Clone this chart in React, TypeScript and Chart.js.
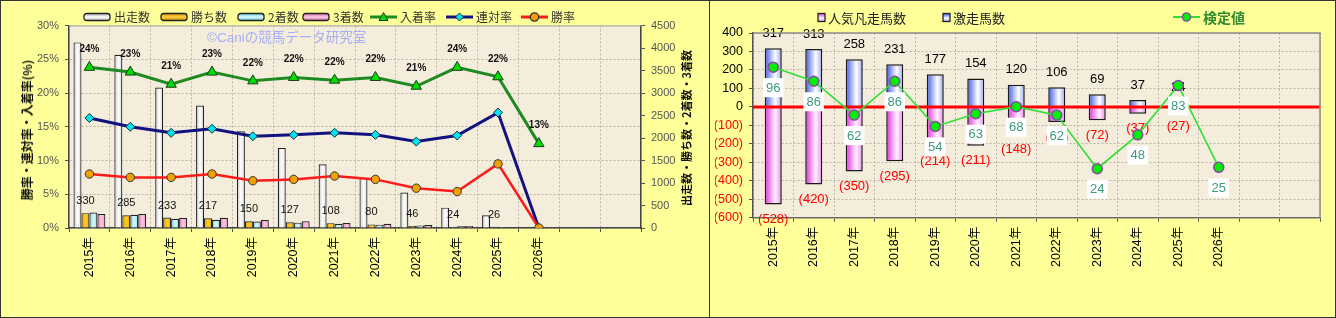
import React, { useEffect, useRef } from 'react';
import { Chart, registerables } from 'chart.js';

Chart.register(...registerables);

// ---------------- data ----------------
const categories = ['2015年', '2016年', '2017年', '2018年', '2019年', '2020年', '2021年', '2022年', '2023年', '2024年', '2025年', '2026年', '', ''];

// left chart
const runs = [4125, 3850, 3120, 2720, 2150, 1780, 1415, 1115, 790, 452, 282, 8];
const wins = [330, 285, 233, 217, 150, 127, 108, 80, 46, 24, 26, 0];
const seconds = [342, 293, 207, 183, 142, 119, 92, 74, 55, 38, 22, 0];
const thirds = [310, 311, 225, 228, 177, 151, 110, 95, 65, 46, 15, 1];
const showRate = [23.8, 23.1, 21.3, 23.1, 21.8, 22.3, 21.9, 22.3, 21.0, 23.8, 22.4, 12.5];
const quinellaRate = [16.3, 15.0, 14.1, 14.7, 13.6, 13.8, 14.1, 13.8, 12.8, 13.7, 17.1, 0];
const winRate = [8.0, 7.5, 7.5, 8.0, 7.0, 7.2, 7.7, 7.2, 5.9, 5.4, 9.5, 0];
const leftNames = ['出走数', '勝ち数', '2着数', '3着数', '入着率', '連対率', '勝率'];

// right chart
const surgeCount = [317, 313, 258, 231, 177, 154, 120, 106, 69, 37, 24, null];
const flopCount = [-528, -420, -350, -295, -214, -211, -148, -82, -72, -37, -27, null];
const testValue = [96, 86, 62, 86, 54, 63, 68, 62, 24, 48, 83, 25];
const rightNames = ['人気凡走馬数', '激走馬数', '検定値'];

// ---------------- styles ----------------
const FONT = "'Liberation Sans', 'Noto Sans CJK JP', sans-serif";
const JFONT = "'Noto Sans CJK JP', 'Liberation Sans', sans-serif";
const GRID = '#BDB5A8';
const PLOT_BG = '#F4EDDC';

type Stops = [number, string][];
const runStops: Stops = [[0, '#c4c4c4'], [0.5, '#ffffff'], [1, '#d6d6d6']];
const winStops: Stops = [[0, '#E0A200'], [0.5, '#FFCC22'], [1, '#E8B000']];
const secStops: Stops = [[0, '#8ED6E4'], [0.5, '#D0F6FA'], [1, '#A2E2EE']];
const thirdStops: Stops = [[0, '#E080BC'], [0.5, '#FFC4E2'], [1, '#F09ACC']];
const blueStops: Stops = [[0, '#3D58E6'], [0.62, '#FFFFFF'], [1, '#98A8F6']];
const pinkStops: Stops = [[0, '#DD2EDD'], [0.62, '#FFF0FF'], [1, '#EE88EE']];

function barGrad(c: any, stops: Stops, solid: string, k: number, nBars: number, catPct: number) {
  const ch = c.chart;
  const xs = ch && ch.scales && ch.scales.x;
  if (!ch || !ch.chartArea || !xs || c.dataIndex == null) return solid;
  const catW = xs.width / categories.length;
  const cx = xs.getPixelForValue(c.dataIndex);
  if (!isFinite(cx) || !isFinite(catW)) return solid;
  const groupW = catW * catPct;
  const bw = groupW / nBars;
  const left = cx - groupW / 2 + k * bw;
  const g = ch.ctx.createLinearGradient(left, 0, left + bw, 0);
  stops.forEach(([o, col]) => g.addColorStop(o, col));
  return g;
}

const LEFT_CAT = 0.78;
const RIGHT_BAR = 0.42;

function leftConfig(): any {
  const barDs = (label: string, data: number[], stops: Stops, k: number) => ({
    type: 'bar',
    label,
    data,
    yAxisID: 'y1',
    backgroundColor: (c: any) => barGrad(c, stops, stops[1][1], k, 4, LEFT_CAT),
    borderColor: '#222',
    borderWidth: 1.2,
    categoryPercentage: LEFT_CAT,
    barPercentage: 1,
    order: 5,
  });
  const plugin = {
    id: 'leftDeco',
    beforeDraw(ch: any) {
      const { ctx, chartArea: a } = ch;
      ctx.save();
      ctx.fillStyle = PLOT_BG;
      ctx.fillRect(a.left, a.top, a.right - a.left, a.bottom - a.top);
      ctx.restore();
    },
    beforeDatasetsDraw(ch: any) {
      const { ctx, chartArea: a } = ch;
      ctx.save();
      ctx.strokeStyle = '#A8A8A8';
      ctx.lineWidth = 1;
      ctx.beginPath();
      ctx.moveTo(a.left, a.top + 0.5);
      ctx.lineTo(a.right, a.top + 0.5);
      ctx.stroke();
      ctx.font = `13.5px ${FONT}`;
      ctx.fillStyle = '#A6AEF4';
      ctx.textAlign = 'left';
      ctx.textBaseline = 'middle';
      ctx.fillText('©Caniの競馬データ研究室', 207, 38);
      ctx.restore();
    },
    afterDatasetsDraw(ch: any) {
      const ctx = ch.ctx;
      ctx.save();
      ctx.textAlign = 'center';
      ctx.textBaseline = 'middle';
      const mw = ch.getDatasetMeta(1);
      ctx.font = `11px ${FONT}`;
      ctx.fillStyle = '#111';
      wins.forEach((v, i) => {
        if (!v) return;
        const el = mw.data[i];
        ctx.fillText(String(v), el.x, el.y - 12);
      });
      const ms = ch.getDatasetMeta(4);
      ctx.font = `bold 10px ${FONT}`;
      showRate.forEach((v, i) => {
        const el = ms.data[i];
        ctx.fillText(Math.round(v) + '%', el.x, el.y - 18);
      });
      ctx.restore();
    },
  };
  return {
    type: 'bar',
    data: {
      labels: categories,
      datasets: [
        barDs(leftNames[0], runs, runStops, 0),
        barDs(leftNames[1], wins, winStops, 1),
        barDs(leftNames[2], seconds, secStops, 2),
        barDs(leftNames[3], thirds, thirdStops, 3),
        {
          type: 'line', label: leftNames[4], data: showRate, yAxisID: 'y',
          borderColor: '#1F8A1F', borderWidth: 3, tension: 0,
          pointStyle: 'triangle', pointRadius: 6, pointBackgroundColor: '#00DD00',
          pointBorderColor: '#1A3A1A', pointBorderWidth: 1, order: 3,
        },
        {
          type: 'line', label: leftNames[5], data: quinellaRate, yAxisID: 'y',
          borderColor: '#12127E', borderWidth: 3, tension: 0,
          pointStyle: 'rectRot', pointRadius: 4.5, pointBackgroundColor: '#00E4F0',
          pointBorderColor: '#1A2A3A', pointBorderWidth: 1, order: 2,
        },
        {
          type: 'line', label: leftNames[6], data: winRate, yAxisID: 'y',
          borderColor: '#FF1A1A', borderWidth: 2.5, tension: 0,
          pointStyle: 'circle', pointRadius: 4.2, pointBackgroundColor: '#F2A000',
          pointBorderColor: '#333', pointBorderWidth: 1, order: 1,
        },
      ],
    },
    options: {
      responsive: false,
      animation: false,
      devicePixelRatio: 1,
      layout: { padding: { left: 9, right: 8, top: 25.5, bottom: 30 } },
      plugins: { legend: { display: false }, tooltip: { enabled: false } },
      scales: {
        x: {
          grid: { color: GRID, offset: true, tickLength: 4, tickColor: '#555' },
          border: { color: '#444', width: 1.5, dash: [2, 2] },
          ticks: { autoSkip: false, maxRotation: 90, minRotation: 90, padding: 5, color: '#000', font: { family: FONT, size: 12.5 } },
          afterFit: (s: any) => { s.height = 60; },
        },
        y: {
          position: 'left', min: 0, max: 30,
          grid: { color: GRID, tickLength: 4, tickColor: '#555' },
          border: { color: '#444', width: 1.5, dash: [2, 2] },
          ticks: { stepSize: 5, autoSkip: false, padding: 6, color: '#555', font: { family: FONT, size: 11 }, callback: (v: any) => v + '%' },
          afterFit: (s: any) => { s.width = 60; },
        },
        y1: {
          position: 'right', min: 0, max: 4500,
          grid: { drawOnChartArea: false, tickLength: 4, tickColor: '#555' },
          border: { color: '#444', width: 1.5 },
          ticks: { stepSize: 500, autoSkip: false, padding: 6, color: '#555', font: { family: FONT, size: 11 }, callback: (v: any) => String(v) },
          afterFit: (s: any) => { s.width = 60; },
        },
      },
    },
    plugins: [plugin],
  };
}

function rightConfig(): any {
  const plugin = {
    id: 'rightDeco',
    beforeDraw(ch: any) {
      const { ctx, chartArea: a } = ch;
      ctx.save();
      ctx.fillStyle = PLOT_BG;
      ctx.fillRect(a.left, a.top, a.right - a.left, a.bottom - a.top);
      ctx.restore();
    },
    afterDatasetDraw(ch: any, args: any) {
      if (args.index !== 0) return;
      const { ctx, chartArea: a } = ch;
      const y0 = ch.scales.y.getPixelForValue(0);
      ctx.save();
      ctx.strokeStyle = '#FF0000';
      ctx.lineWidth = 3;
      ctx.beginPath();
      ctx.moveTo(a.left, y0);
      ctx.lineTo(a.right, y0);
      ctx.stroke();
      ctx.font = `13px ${FONT}`;
      ctx.textAlign = 'center';
      ctx.textBaseline = 'middle';
      const mb = ch.getDatasetMeta(0);
      const mp = ch.getDatasetMeta(1);
      surgeCount.forEach((v, i) => {
        if (v == null) return;
        const el = mb.data[i];
        ctx.fillStyle = '#000';
        ctx.fillText(String(v), el.x, el.y - 15);
      });
      flopCount.forEach((v, i) => {
        if (v == null) return;
        const el = mp.data[i];
        ctx.fillStyle = '#FF0000';
        ctx.fillText(`(${-v})`, el.x, el.y + 15);
      });
      ctx.restore();
    },
    afterDatasetsDraw(ch: any) {
      const { ctx, chartArea: a } = ch;
      ctx.save();
      ctx.font = `13px ${FONT}`;
      ctx.textAlign = 'center';
      ctx.textBaseline = 'middle';
      const m = ch.getDatasetMeta(2);
      testValue.forEach((v, i) => {
        const el = m.data[i];
        const t = String(v);
        const w = ctx.measureText(t).width + 6;
        const h = 19;
        const cy = el.y + 20.5;
        ctx.fillStyle = '#FFFFFF';
        ctx.fillRect(el.x - w / 2, cy - h / 2, w, h);
        ctx.fillStyle = '#3E9A7C';
        ctx.fillText(t, el.x, cy + 0.5);
      });
      ctx.strokeStyle = '#8C8C8C';
      ctx.lineWidth = 1.5;
      ctx.beginPath();
      ctx.moveTo(a.left, a.top);
      ctx.lineTo(a.right, a.top);
      ctx.lineTo(a.right, a.bottom);
      ctx.stroke();
      ctx.restore();
    },
  };
  return {
    type: 'bar',
    data: {
      labels: categories,
      datasets: [
        {
          type: 'bar', label: rightNames[1], data: surgeCount, yAxisID: 'y',
          backgroundColor: (c: any) => barGrad(c, blueStops, '#B8C4F8', 0, 1, RIGHT_BAR),
          borderColor: '#1A1A1A', borderWidth: 1.5, grouped: false,
          categoryPercentage: RIGHT_BAR, barPercentage: 1, order: 2,
        },
        {
          type: 'bar', label: rightNames[0], data: flopCount, yAxisID: 'y',
          backgroundColor: (c: any) => barGrad(c, pinkStops, '#F4B0F4', 0, 1, RIGHT_BAR),
          borderColor: '#1A1A1A', borderWidth: 1.5, grouped: false,
          categoryPercentage: RIGHT_BAR, barPercentage: 1, order: 3,
        },
        {
          type: 'line', label: rightNames[2], data: testValue, yAxisID: 'y2',
          borderColor: '#33DD33', borderWidth: 1.6, tension: 0,
          pointStyle: 'circle', pointRadius: 5, pointBackgroundColor: '#00EE00',
          pointBorderColor: '#8A48A8', pointBorderWidth: 1.5, order: 1,
        },
      ],
    },
    options: {
      responsive: false,
      animation: false,
      devicePixelRatio: 1,
      layout: { padding: { left: 5, right: 16, top: 33, bottom: 40.3 } },
      plugins: { legend: { display: false }, tooltip: { enabled: false } },
      scales: {
        x: {
          grid: { color: GRID, offset: true, tickLength: 4, tickColor: '#555' },
          border: { color: '#6A6A6A', width: 1.5, dash: [2, 2] },
          ticks: { autoSkip: false, maxRotation: 90, minRotation: 90, padding: 5, color: '#000', font: { family: FONT, size: 12.5 } },
          afterFit: (s: any) => { s.height = 60; },
        },
        y: {
          position: 'left', min: -600, max: 400,
          grid: { color: GRID, tickLength: 4, tickColor: '#555' },
          border: { color: '#555', width: 1.5, dash: [2, 2] },
          ticks: {
            stepSize: 100, autoSkip: false, padding: 6,
            font: { family: FONT, size: 12.5 },
            color: (c: any) => (c.tick && c.tick.value < 0 ? '#FF0000' : '#000'),
            callback: (v: any) => (v < 0 ? `(${-v})` : `${v}`),
          },
          afterFit: (s: any) => { s.width = 38; },
        },
        y2: { display: false, position: 'right', min: -10.7, max: 120.2 },
      },
    },
    plugins: [plugin],
  };
}

// ---------------- legend icons ----------------
function BarIcon({ id, stops, w = 26, h = 7, rx = 2.5 }: { id: string; stops: Stops; w?: number; h?: number; rx?: number }) {
  return (
    <svg width={w + 2} height={h + 3} style={{ display: 'block' }}>
      <defs>
        <linearGradient id={id} x1="0" y1="0" x2="0" y2="1">
          {stops.map(([o, c], k) => <stop key={k} offset={o} stopColor={c} />)}
        </linearGradient>
      </defs>
      <rect x={1} y={1.5} width={w} height={h} rx={rx} fill={`url(#${id})`} stroke="#222" strokeWidth={1.3} />
    </svg>
  );
}

function LineIcon({ color, marker, fill, width = 27, lw = 3 }: { color: string; marker: string; fill: string; width?: number; lw?: number }) {
  const cx = width / 2;
  let m: any = null;
  if (marker === 'triangle') m = <polygon points={`${cx},1.5 ${cx + 4.5},9.5 ${cx - 4.5},9.5`} fill={fill} stroke="#1A3A1A" strokeWidth={1} />;
  else if (marker === 'diamond') m = <polygon points={`${cx},2 ${cx + 4},6 ${cx},10 ${cx - 4},6`} fill={fill} stroke="#1A2A3A" strokeWidth={1} />;
  else m = <circle cx={cx} cy={6} r={4.2} fill={fill} stroke={marker === 'circleP' ? '#8A48A8' : '#333'} strokeWidth={1.2} />;
  return (
    <svg width={width} height={12} style={{ display: 'block' }}>
      <line x1={0} y1={6} x2={width} y2={6} stroke={color} strokeWidth={lw} />
      {m}
    </svg>
  );
}

export default function App() {
  const leftRef = useRef<HTMLCanvasElement>(null);
  const rightRef = useRef<HTMLCanvasElement>(null);

  useEffect(() => {
    document.body.style.margin = '0';
    const c1 = new Chart(leftRef.current as HTMLCanvasElement, leftConfig());
    const c2 = new Chart(rightRef.current as HTMLCanvasElement, rightConfig());
    return () => {
      c1.destroy();
      c2.destroy();
    };
  }, []);

  const leftLegend = [
    { x: 83, icon: <BarIcon id="lg0" stops={[[0, '#aaa'], [0.5, '#fff'], [1, '#bbb']]} /> },
    { x: 160, icon: <BarIcon id="lg1" stops={[[0, '#D09000'], [0.5, '#FFD040'], [1, '#D09000']]} /> },
    { x: 237, icon: <BarIcon id="lg2" stops={[[0, '#70C8D8'], [0.5, '#D8FAFF'], [1, '#70C8D8']]} /> },
    { x: 302, icon: <BarIcon id="lg3" stops={[[0, '#D070A8'], [0.5, '#FFC8E4'], [1, '#D070A8']]} /> },
    { x: 370, icon: <LineIcon color="#1F8A1F" marker="triangle" fill="#00DD00" /> },
    { x: 446, icon: <LineIcon color="#12127E" marker="diamond" fill="#00E4F0" /> },
    { x: 521, icon: <LineIcon color="#FF1A1A" marker="circle" fill="#F2A000" /> },
  ];

  const vtitle = (text: string, cx: number, cy: number, size: number) => (
    <div
      style={{
        position: 'absolute', left: cx, top: cy, transform: 'translate(-50%, -50%) rotate(-90deg)',
        whiteSpace: 'nowrap', font: `bold ${size}px ${JFONT}`, color: '#111', lineHeight: 1,
      }}
    >
      {text}
    </div>
  );

  return (
    <div style={{ position: 'absolute', left: 0, top: 0, width: 1336, height: 318, background: '#FFFF99', overflow: 'hidden' }}>
      <canvas ref={leftRef} width={709} height={318} style={{ position: 'absolute', left: 0, top: 0, width: 709, height: 318 }} />
      <canvas ref={rightRef} width={626} height={318} style={{ position: 'absolute', left: 710, top: 0, width: 626, height: 318 }} />

      {leftLegend.map((it, i) => (
        <div key={i} style={{ position: 'absolute', left: it.x, top: 9, height: 16, display: 'flex', alignItems: 'center' }}>
          {it.icon}
          <span style={{ marginLeft: 3, font: `12px ${JFONT}`, color: '#333', whiteSpace: 'nowrap', lineHeight: 1 }}>{leftNames[i]}</span>
        </div>
      ))}

      <div style={{ position: 'absolute', left: 817, top: 9, height: 16, display: 'flex', alignItems: 'center' }}>
        <BarIcon id="rg0" stops={[[0, '#E040E0'], [0.6, '#FFF0FF'], [1, '#E888E8']]} w={7} h={8} rx={0} />
        <span style={{ marginLeft: 2, font: `13px ${JFONT}`, color: '#222', whiteSpace: 'nowrap', lineHeight: 1 }}>{rightNames[0]}</span>
      </div>
      <div style={{ position: 'absolute', left: 942, top: 9, height: 16, display: 'flex', alignItems: 'center' }}>
        <BarIcon id="rg1" stops={[[0, '#4058E6'], [0.6, '#FFFFFF'], [1, '#98A8F6']]} w={7} h={8} rx={0} />
        <span style={{ marginLeft: 2, font: `13px ${JFONT}`, color: '#222', whiteSpace: 'nowrap', lineHeight: 1 }}>{rightNames[1]}</span>
      </div>
      <div style={{ position: 'absolute', left: 1173, top: 9, height: 16, display: 'flex', alignItems: 'center' }}>
        <LineIcon color="#33DD33" marker="circleP" fill="#00EE00" width={27} lw={2} />
        <span style={{ marginLeft: 3, font: `bold 14px ${JFONT}`, color: '#2E8B2E', whiteSpace: 'nowrap', lineHeight: 1 }}>{rightNames[2]}</span>
      </div>

      {vtitle('勝率・連対率・入着率(%)', 27, 130, 12)}
      {vtitle('出走数・勝ち数・2着数・3着数', 686, 128, 11)}

      <div style={{ position: 'absolute', left: 709, top: 0, width: 1, height: 318, background: '#333' }} />
      <div style={{ position: 'absolute', left: 0, top: 0, width: 1336, height: 318, boxSizing: 'border-box', border: '1px solid #333', pointerEvents: 'none' }} />
    </div>
  );
}
